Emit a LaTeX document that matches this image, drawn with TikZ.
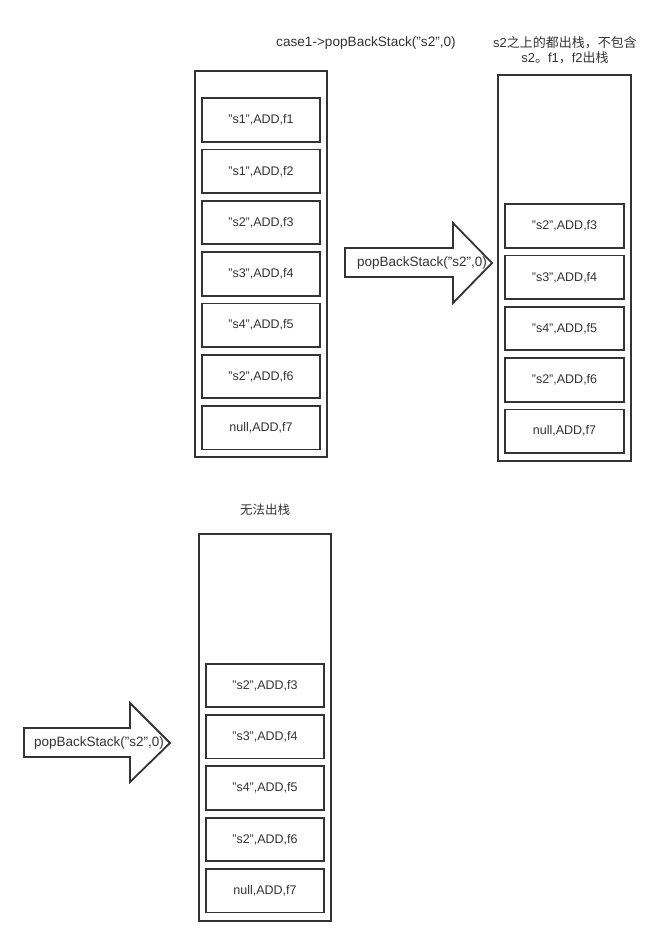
\documentclass[tikz,border=0pt]{standalone}
\usepackage{fontspec}
\setmainfont{Liberation Sans}
\newfontfamily\cjk{Noto Sans CJK SC}
\usetikzlibrary{positioning}
\definecolor{stackline}{RGB}{51,51,51}
\definecolor{labeltext}{RGB}{51,51,51}

\begin{document}
\begin{tikzpicture}[x=1pt, y=-1pt,
    node distance=6pt,
    frame/.style={rectangle, draw=stackline, line width=1.8pt,
                  minimum width=132.5pt, minimum height=386.5pt, inner sep=0pt},
    entry/.style={rectangle, draw=stackline, line width=1.8pt,
                  minimum width=118.5pt, minimum height=43.5pt, inner sep=0pt,
                  font=\fontsize{12.5}{15}\selectfont, text=labeltext},
    note/.style={font=\fontsize{12.5}{15}\selectfont, text=labeltext, align=center},
    bigarrow/.style={draw=stackline, line width=1.8pt, fill=white}
]
\useasboundingbox (0,0) rectangle (670,947);

% captions
\node[note, font=\fontsize{13.6}{15}\selectfont] (case) at (366,43) {case1->popBackStack("s2",0)};
\node[note, font=\fontsize{13}{15}\selectfont] (popped) at (565,50.5) {s2{\cjk 之上的都出栈，不包含}\\s2{\cjk 。}f1{\cjk ，}f2{\cjk 出栈}};
\node[note] (stuck) at (265,510) {\cjk 无法出栈};

% stack before
\node[frame] (before) at (261,264) {};
\node[entry] (b1) at (261,120) {"s1",ADD,f1};
\node[entry, below=of b1] (b2) {"s1",ADD,f2};
\node[entry, below=of b2] (b3) {"s2",ADD,f3};
\node[entry, below=of b3] (b4) {"s3",ADD,f4};
\node[entry, below=of b4] (b5) {"s4",ADD,f5};
\node[entry, below=of b5] (b6) {"s2",ADD,f6};
\node[entry, below=of b6] (b7) {null,ADD,f7};

% stack after
\node[frame] (after) at (564.5,268) {};
\node[entry] (a3) at (564.5,226) {"s2",ADD,f3};
\node[entry, below=of a3] (a4) {"s3",ADD,f4};
\node[entry, below=of a4] (a5) {"s4",ADD,f5};
\node[entry, below=of a5] (a6) {"s2",ADD,f6};
\node[entry, below=of a6] (a7) {null,ADD,f7};

% stack that cannot pop
\node[frame] (blocked) at (265,727.5) {};
\node[entry] (c3) at (265,685.5) {"s2",ADD,f3};
\node[entry, below=of c3] (c4) {"s3",ADD,f4};
\node[entry, below=of c4] (c5) {"s4",ADD,f5};
\node[entry, below=of c5] (c6) {"s2",ADD,f6};
\node[entry, below=of c6] (c7) {null,ADD,f7};

% pop arrows
\draw[bigarrow] (345,248) -- (453,248) -- (453,223) -- (492,263)
    -- (453,303) -- (453,277) -- (345,277) -- cycle;
\node[note, font=\fontsize{13.5}{15}\selectfont] (pop1) at (422,263) {popBackStack("s2",0)};
\draw[bigarrow] (24,728) -- (130,728) -- (130,703) -- (170,743)
    -- (130,782) -- (130,757) -- (24,757) -- cycle;
\node[note, font=\fontsize{13.5}{15}\selectfont] (pop2) at (99,743) {popBackStack("s2",0)};
\end{tikzpicture}
\end{document}
